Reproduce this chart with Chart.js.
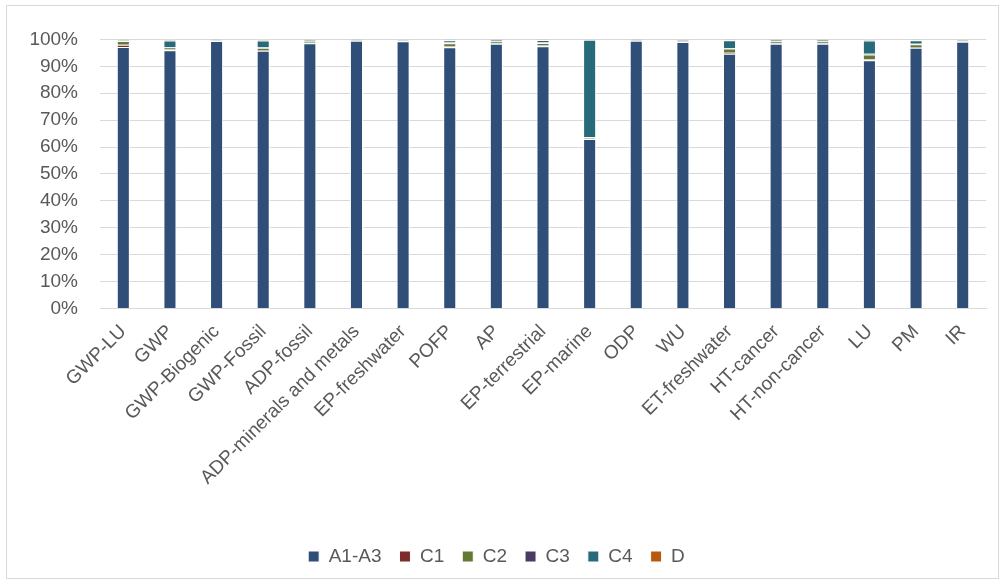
<!DOCTYPE html>
<html>
<head>
<meta charset="utf-8">
<script src="https://cdn.jsdelivr.net/npm/chart.js@4"></script>
<style>
  html, body { margin: 0; padding: 0; background: #fff; }
  #box {
    position: absolute; left: 6px; top: 5px;
    width: 993px; height: 574px;
    border: 1px solid #d9d9d9; box-sizing: border-box;
  }
  canvas { display: block; }
</style>
</head>
<body>
<div id="box"><canvas id="impactChart"></canvas></div>
<script>
// impact categories along the x axis
const categories = ['GWP-LU', 'GWP', 'GWP-Biogenic', 'GWP-Fossil', 'ADP-fossil', 'ADP-minerals and metals',
    'EP-freshwater', 'POFP', 'AP', 'EP-terrestrial', 'EP-marine', 'ODP', 'WU', 'ET-freshwater',
    'HT-cancer', 'HT-non-cancer', 'LU', 'PM', 'IR'];

// share of each life cycle stage, in %
const a1a3 = [97.2, 96.0, 99.4, 95.8, 98.6, 99.5, 99.3, 97.1, 98.4, 97.5, 63.0, 99.5, 99.0, 94.7, 98.4, 98.4, 92.3, 96.9, 99.1];
const c1   = [0.8, 0.4, 0.1, 0.3, 0.2, 0.1, 0.1, 0.3, 0.2, 0.2, 0.2, 0.1, 0.2, 0.3, 0.2, 0.2, 0.3, 0.3, 0.1];
const c2   = [1.4, 0.6, 0.2, 0.8, 0.6, 0.1, 0.2, 1.2, 0.6, 1.0, 0.4, 0.1, 0.3, 1.6, 0.6, 0.6, 1.8, 1.0, 0.3];
const c3   = [0.2, 0.2, 0.1, 0.2, 0.1, 0.1, 0.1, 0.3, 0.2, 0.2, 0.1, 0.1, 0.1, 0.2, 0.2, 0.2, 0.3, 0.2, 0.1];
const c4   = [0.2, 2.4, 0.1, 2.5, 0.3, 0.1, 0.2, 0.8, 0.4, 0.9, 36.2, 0.1, 0.3, 2.9, 0.4, 0.4, 4.9, 1.3, 0.3];
const stageD = [0.2, 0.4, 0.1, 0.4, 0.2, 0.1, 0.1, 0.3, 0.2, 0.2, 0.1, 0.1, 0.1, 0.3, 0.2, 0.2, 0.4, 0.3, 0.1];

const yTicks = [0, 10, 20, 30, 40, 50, 60, 70, 80, 90, 100];

const fontFamily = '"Liberation Sans", "DejaVu Sans", sans-serif';
const textColor = '#595959';

function stage(label, data, color) {
    return {
        label: label,
        data: data,
        backgroundColor: color,
        borderColor: '#ffffff',
        borderWidth: 1,
        barPercentage: 0.28,
        categoryPercentage: 1
    };
}

const ctx = document.getElementById('impactChart').getContext('2d');
new Chart(ctx, {
    type: 'bar',
    data: {
        labels: categories,
        datasets: [
            stage('A1-A3', a1a3, '#2f4f79'),
            stage('C1', c1, '#7d2b2b'),
            stage('C2', c2, '#627a31'),
            stage('C3', c3, '#4b3a64'),
            stage('C4', c4, '#276b7b'),
            stage('D', stageD, '#b75a10')
        ]
    },
    options: {
        responsive: true,
        maintainAspectRatio: false,
        animation: false,
        layout: { padding: { top: 8, right: 12, left: 0, bottom: 2 } },
        plugins: {
            tooltip: { enabled: false },
            legend: {
                position: 'bottom',
                labels: {
                    boxWidth: 11,
                    boxHeight: 11,
                    padding: 18,
                    color: textColor,
                    font: { family: fontFamily, size: 19 }
                }
            }
        },
        scales: {
            x: {
                stacked: true,
                grid: { display: false },
                border: { display: true, color: '#d9d9d9', width: 1 },
                afterFit: scale => { scale.height += 36; },
                ticks: {
                    maxRotation: 45,
                    minRotation: 45,
                    autoSkip: false,
                    padding: 4,
                    color: textColor,
                    font: { family: fontFamily, size: 19 }
                }
            },
            y: {
                stacked: true,
                min: 0,
                max: 100,
                afterBuildTicks: scale => { scale.ticks = yTicks.map(v => ({ value: v })); },
                afterFit: scale => { scale.width = 93; },
                grid: { color: '#d9d9d9', drawTicks: false },
                border: { display: false },
                ticks: {
                    padding: 22,
                    color: textColor,
                    font: { family: fontFamily, size: 19 },
                    callback: v => v + '%'
                }
            }
        }
    }
});
</script>
</body>
</html>
